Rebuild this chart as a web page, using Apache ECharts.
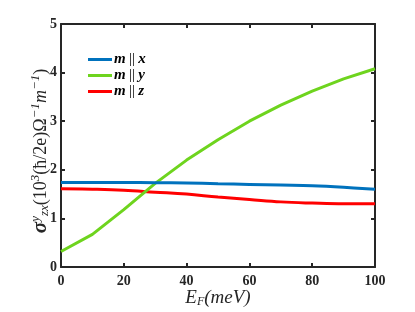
<!DOCTYPE html>
<html><head><meta charset="utf-8">
<script src="https://cdn.jsdelivr.net/npm/echarts@6/dist/echarts.min.js"></script>
<style>html,body{margin:0;padding:0;background:#fff}#c{width:415px;height:312px}</style>
</head><body><div id="c"></div>
<script>
const energies = [0, 10, 20, 30, 40, 50, 60, 70, 80, 90, 100];
const mx = [1.74, 1.74, 1.74, 1.735, 1.73, 1.715, 1.70, 1.685, 1.67, 1.64, 1.60];
const my = [0.32, 0.67, 1.18, 1.72, 2.20, 2.62, 3.00, 3.33, 3.62, 3.87, 4.08];
const mz = [1.61, 1.60, 1.58, 1.54, 1.50, 1.44, 1.39, 1.34, 1.315, 1.30, 1.30];
const seriesNames = ['m || x', 'm || y', 'm || z'];
const colors = ['#0072BD', '#6ED41E', '#FF0000'];
const xTicks = [0, 20, 40, 60, 80, 100];
const yTicks = [0, 1, 2, 3, 4, 5];

const chart = echarts.init(document.getElementById('c'), null, {renderer: 'canvas'});
const serif = 'Liberation Serif';
const axisLine = {show: true, onZero: false, lineStyle: {color: '#262626', width: 2}};
const tick = {show: true, inside: true, length: 4, lineStyle: {color: '#262626', width: 2}};
const lbl = {fontFamily: serif, fontWeight: 'bold', fontSize: 14, color: '#262626'};
function pairs(ys) { return energies.map((e, i) => [e, ys[i]]); }
const data = [mx, my, mz];

chart.setOption({
  animation: false,
  grid: {left: 61, right: 40, top: 24, bottom: 45, outerBoundsMode: 'none', containLabel: false},
  legend: {
    left: 88, top: 52, orient: 'vertical', itemWidth: 24, itemHeight: 3, itemGap: 1,
    icon: 'rect', padding: [0, 0, 0, 0],
    formatter: n => { const p = n.split(' || '); return '{i|' + p[0] + '} {p|||} {i|' + p[1] + '}'; },
    textStyle: {padding: [0, 0, 0, -3], rich: {
      i: {fontFamily: serif, fontStyle: 'italic', fontWeight: 'bold', fontSize: 15, color: '#000', lineHeight: 13},
      p: {fontFamily: serif, fontSize: 15, color: '#000', lineHeight: 13}
    }},
    data: seriesNames
  },
  xAxis: [{
    type: 'value', min: 0, max: 100, interval: 20,
    axisLine, axisTick: tick, splitLine: {show: false},
    axisLabel: Object.assign({margin: 7, formatter: v => xTicks.includes(v) ? String(v) : ''}, lbl),
    name: '{e|E}{s|F}{e|(meV)}', nameLocation: 'middle', nameGap: 21, nameMoveOverlap: false,
    nameTextStyle: {rich: {
      e: {fontFamily: serif, fontStyle: 'italic', fontSize: 19, color: '#262626', lineHeight: 20},
      s: {fontFamily: serif, fontStyle: 'italic', fontSize: 12, color: '#262626', lineHeight: 20, padding: [8, 0, 0, 0]}
    }}
  }, {
    type: 'value', min: 0, max: 100, interval: 20, position: 'top',
    axisLine, axisTick: tick, axisLabel: {show: false}, splitLine: {show: false}
  }],
  yAxis: [{
    type: 'value', min: 0, max: 5, interval: 1,
    axisLine, axisTick: tick, splitLine: {show: false},
    axisLabel: Object.assign({margin: 4, formatter: v => yTicks.includes(v) ? String(v) : ''}, lbl),
    name: '{g|σ}{sp|y}{sb|zx}{t|(10}{sp|3}{t|(ħ/2e)Ω}{sp|−1}{i|m}{sp|−1}{t|)}',
    nameLocation: 'middle', nameGap: 10, nameMoveOverlap: false,
    nameTextStyle: {padding: [0, 11, 0, 0], rich: {
      g: {fontFamily: serif, fontStyle: 'italic', fontWeight: 'bold', fontSize: 21, color: '#262626', lineHeight: 20},
      t: {fontFamily: serif, fontSize: 18, color: '#262626', lineHeight: 20},
      i: {fontFamily: serif, fontStyle: 'italic', fontSize: 18, color: '#262626', lineHeight: 20},
      sp: {fontFamily: serif, fontStyle: 'italic', fontSize: 13, color: '#262626', lineHeight: 20, padding: [0, 0, 11, 0]},
      sb: {fontFamily: serif, fontStyle: 'italic', fontSize: 13, color: '#262626', lineHeight: 20, padding: [8, 0, 0, 0]}
    }}
  }, {
    type: 'value', min: 0, max: 5, interval: 1, position: 'right',
    axisLine, axisTick: tick, axisLabel: {show: false}, splitLine: {show: false}
  }],
  series: seriesNames.map((n, i) => ({
    name: n, type: 'line', data: pairs(data[i]), showSymbol: false, smooth: i === 1 ? false : 0.4,
    lineStyle: {color: colors[i], width: 3}, itemStyle: {color: colors[i]},
    z: 3 - i
  }))
});
</script></body></html>
